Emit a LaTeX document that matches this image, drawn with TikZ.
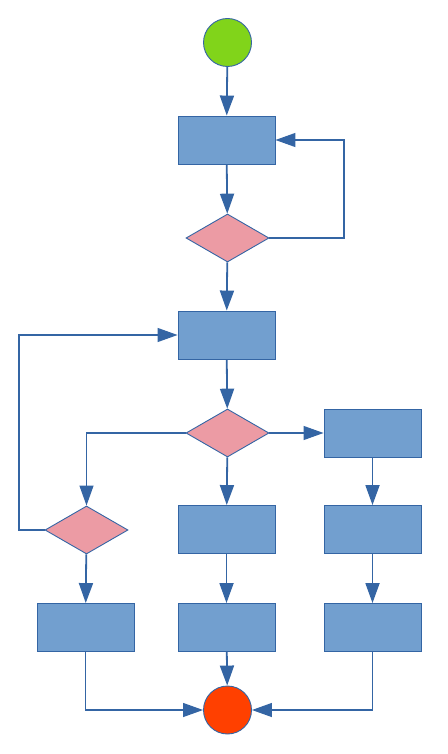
\documentclass[tikz,border=0pt]{standalone}
\usetikzlibrary{shapes.geometric,arrows.meta}
\definecolor{lineblue}{HTML}{3465A4}
\definecolor{boxfill}{HTML}{729FCF}
\definecolor{pinkfill}{HTML}{EC9BA4}
\definecolor{greenfill}{HTML}{81D41A}
\definecolor{redfill}{HTML}{FF4000}
\begin{document}
\begin{tikzpicture}[x=1pt,y=-1pt,
  stepbox/.style={draw=lineblue,line width=0.9pt,fill=boxfill,minimum width=97pt,minimum height=48pt,inner sep=0pt},
  decide/.style={diamond,draw=lineblue,line width=0.9pt,fill=pinkfill,minimum width=83pt,minimum height=48pt,inner sep=0pt},
  term/.style={circle,draw=lineblue,line width=0.9pt,minimum size=48pt,inner sep=0pt},
  flow/.style={draw=lineblue,line width=1.8pt,-{Triangle[length=20pt,width=14pt]}},
  thinflow/.style={draw=lineblue,line width=1.2pt,-{Triangle[length=20pt,width=14pt]}}]
\useasboundingbox (0,0) rectangle (447,754);
\node[term,fill=greenfill] (start) at (227.5,42.5) {};
\node[stepbox] (b1) at (226.5,140) {};
\node[decide] (d1) at (227.5,238) {};
\node[stepbox] (b2) at (226.5,335) {};
\node[decide] (d2) at (227.5,433) {};
\node[stepbox] (br1) at (372.5,433) {};
\node[decide] (d3) at (86.5,530) {};
\node[stepbox] (bm2) at (226.5,529.5) {};
\node[stepbox] (br2) at (372.5,529.5) {};
\node[stepbox] (bl3) at (85.5,627.5) {};
\node[stepbox] (bm3) at (226.5,627.5) {};
\node[stepbox] (br3) at (372.5,627.5) {};
\node[term,fill=redfill] (end) at (227.5,710) {};
\coordinate (c1) at (344,140);
\coordinate (c2) at (19,335);
\draw[flow] (start) -- (b1);
\draw[flow] (b1) -- (d1);
\draw[thinflow] (d1.east) -| (c1) -- (b1.east);
\draw[flow] (d1) -- (b2);
\draw[flow] (b2) -- (d2);
\draw[thinflow] (d2.east) -- (br1.west);
\draw[thinflow] (d2.west) -| (d3.north);
\draw[flow] (d2) -- (bm2);
\draw[flow] (br1) -- (br2);
\draw[thinflow] (d3.west) -| (c2) -- (b2.west);
\draw[flow] (d3) -- (bl3);
\draw[flow] (bm2) -- (bm3);
\draw[flow] (br2) -- (br3);
\draw[flow] (bm3) -- (end);
\draw[thinflow] (bl3.south) |- (end.west);
\draw[thinflow] (br3.south) |- (end.east);
\end{tikzpicture}
\end{document}
